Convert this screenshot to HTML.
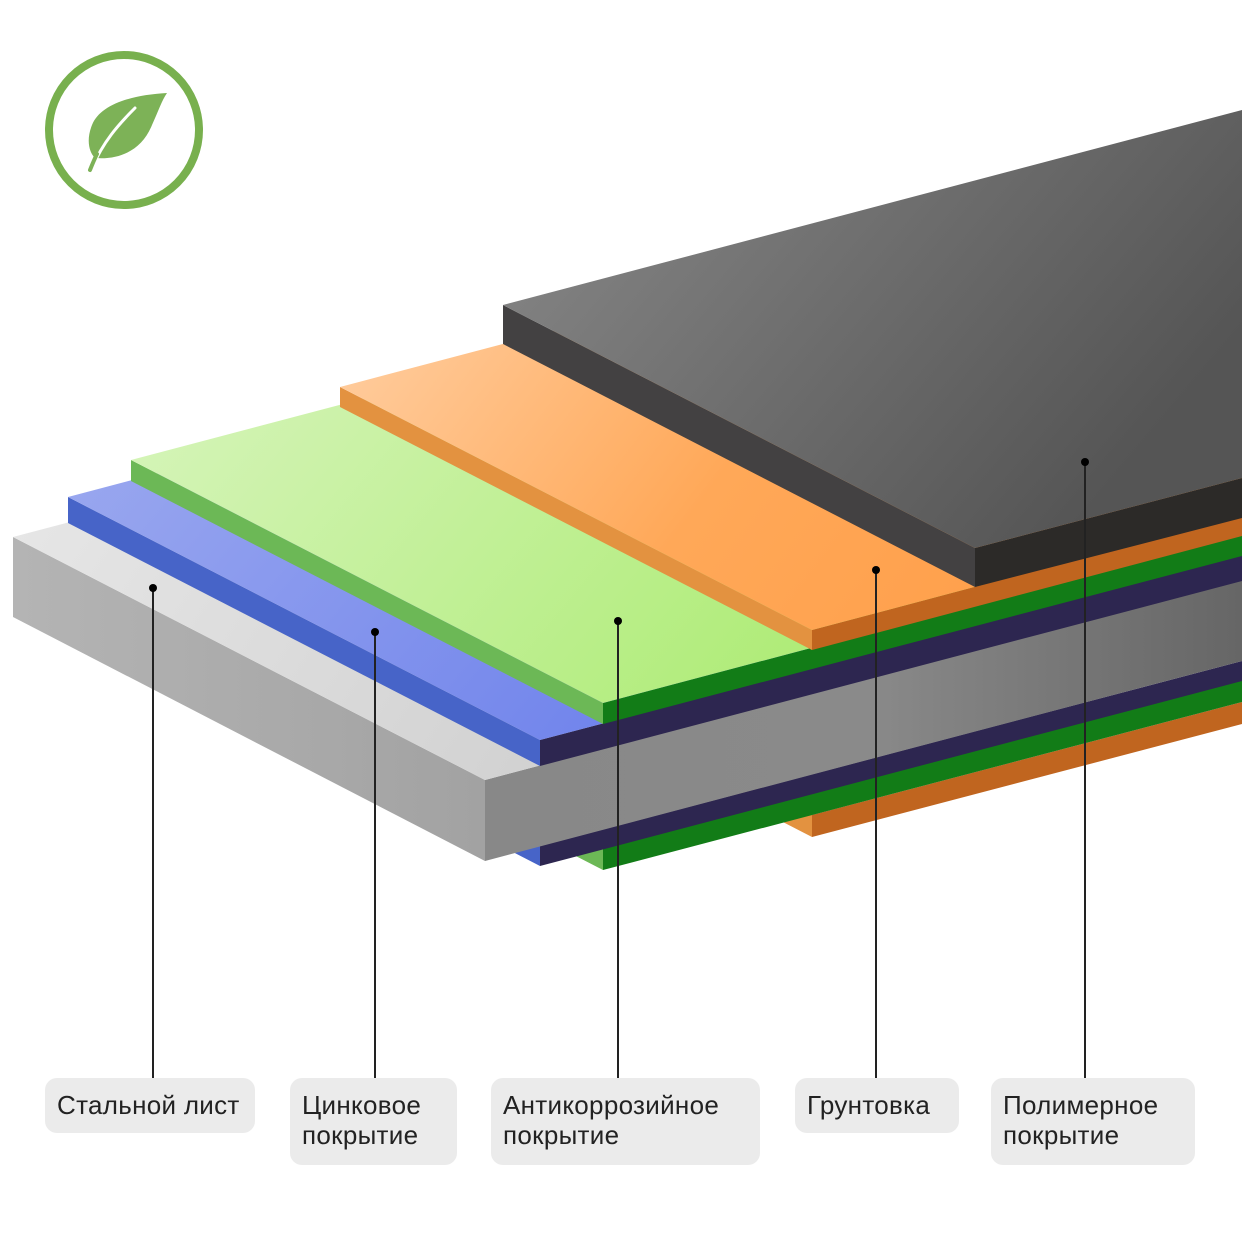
<!DOCTYPE html>
<html><head><meta charset="utf-8"><style>
html,body{margin:0;padding:0;background:#fff}
body{width:1242px;height:1242px;overflow:hidden;position:relative;font-family:"Liberation Sans",sans-serif}
.lb{position:absolute;background:#ebebeb;border-radius:12px;font-size:26px;line-height:30px;letter-spacing:0.3px;color:#222;padding:12px 0 0 12px;box-sizing:border-box;top:1078px;white-space:nowrap}
</style></head><body>
<svg width="1242" height="1242" viewBox="0 0 1242 1242" style="position:absolute;left:0;top:0">
<defs>
<linearGradient id="gSteelF" x1="0" y1="0" x2="1" y2="0"><stop offset="0" stop-color="#888"/><stop offset="0.5" stop-color="#8a8a8a"/><stop offset="1" stop-color="#666"/></linearGradient>
<linearGradient id="gSteelS" x1="0" y1="0" x2="1" y2="0"><stop offset="0" stop-color="#b4b4b4"/><stop offset="1" stop-color="#a2a2a2"/></linearGradient>
<linearGradient id="gSteelT" x1="0" y1="0" x2="1" y2="0.3"><stop offset="0" stop-color="#ececec"/><stop offset="1" stop-color="#c4c4c4"/></linearGradient>
<linearGradient id="gZinc" x1="0" y1="0" x2="1" y2="0.4"><stop offset="0" stop-color="#a6b2f0"/><stop offset="1" stop-color="#5e74ea"/></linearGradient>
<linearGradient id="gGreen" x1="0" y1="0" x2="1" y2="0.4"><stop offset="0" stop-color="#def6c8"/><stop offset="1" stop-color="#a6ea68"/></linearGradient>
<linearGradient id="gOr" x1="0" y1="0" x2="1" y2="0.4"><stop offset="0" stop-color="#ffd8b4"/><stop offset="0.6" stop-color="#ffa858"/><stop offset="1" stop-color="#ff9f4a"/></linearGradient>
<linearGradient id="gPoly" x1="0" y1="0" x2="1" y2="0.5"><stop offset="0" stop-color="#8a8a8a"/><stop offset="1" stop-color="#555"/></linearGradient>
</defs>
<!-- lower layers -->
<polygon points="812,815 1242,702 1242,724 812,837" fill="#c0651f"/>
<polygon points="340,572 812,815 812,837 340,594" fill="#e39240"/>
<polygon points="603,849 1242,680 1242,702 603,870" fill="#127c17"/>
<polygon points="131,606 603,849 603,870 131,627" fill="#6cb856"/>
<polygon points="540,846 1242,661 1242,681 540,866" fill="#2d2650"/>
<polygon points="68,603 540,846 540,866 68,623" fill="#4764c8"/>
<!-- steel -->
<polygon points="13,537 485,780 485,861 13,617" fill="url(#gSteelS)"/>
<polygon points="485,780 1242,580 1242,661 485,861" fill="url(#gSteelF)"/>
<polygon points="13,537 485,780 1242,580 1242,213" fill="url(#gSteelT)"/>
<!-- zinc upper -->
<polygon points="68,497 540,740 540,766 68,523" fill="#4764c8"/>
<polygon points="540,740 1242,555 1242,581 540,766" fill="#2d2650"/>
<polygon points="68,497 540,740 1242,555 1242,187" fill="url(#gZinc)"/>
<!-- antikorr -->
<polygon points="131,460 603,703 603,724 131,481" fill="#6cb856"/>
<polygon points="603,703 1242,534 1242,556 603,724" fill="#127c17"/>
<polygon points="131,460 603,703 1242,534 1242,167" fill="url(#gGreen)"/>
<!-- primer -->
<polygon points="340,387 812,630 812,650 340,407" fill="#e39240"/>
<polygon points="812,630 1242,516 1242,536 812,650" fill="#c0651f"/>
<polygon points="340,387 812,630 1242,516 1242,149" fill="url(#gOr)"/>
<!-- polymer -->
<polygon points="503,305 975,548 975,587 503,344" fill="#434142"/>
<polygon points="975,548 1242,478 1242,518 975,587" fill="#2c2a28"/>
<polygon points="503,305 975,548 1242,478 1242,110" fill="url(#gPoly)"/>
<!-- callouts -->
<g stroke="#222" stroke-width="2">
<line x1="153" y1="588" x2="153" y2="1078"/>
<line x1="375" y1="632" x2="375" y2="1078"/>
<line x1="618" y1="621" x2="618" y2="1078"/>
<line x1="876" y1="570" x2="876" y2="1078"/>
<line x1="1085" y1="462" x2="1085" y2="1078"/>
</g>
<g fill="#000">
<circle cx="153" cy="588" r="4"/><circle cx="375" cy="632" r="4"/><circle cx="618" cy="621" r="4"/><circle cx="876" cy="570" r="4"/><circle cx="1085" cy="462" r="4"/>
</g>
<!-- logo -->
<circle cx="124" cy="130" r="75" fill="none" stroke="#78b04e" stroke-width="8"/>
<path d="M167,93 C130,95 100,105 92,125 C86,140 89,152 95,158 C120,160 142,150 152,125 C158,112 162,100 167,93 Z" fill="#7db257"/>
<path d="M135,108 C118,125 103,142 92,168" stroke="#fff" stroke-width="3" fill="none" stroke-linecap="round"/>
<path d="M97,154 C94,160 92,165 90,170" stroke="#7db257" stroke-width="4" fill="none" stroke-linecap="round"/>
</svg>
<div class="lb" style="left:45px;width:210px;height:55px">Стальной лист</div>
<div class="lb" style="left:290px;width:167px;height:87px">Цинковое<br>покрытие</div>
<div class="lb" style="left:491px;width:269px;height:87px">Антикоррозийное<br>покрытие</div>
<div class="lb" style="left:795px;width:164px;height:55px">Грунтовка</div>
<div class="lb" style="left:991px;width:204px;height:87px">Полимерное<br>покрытие</div>
</body></html>
